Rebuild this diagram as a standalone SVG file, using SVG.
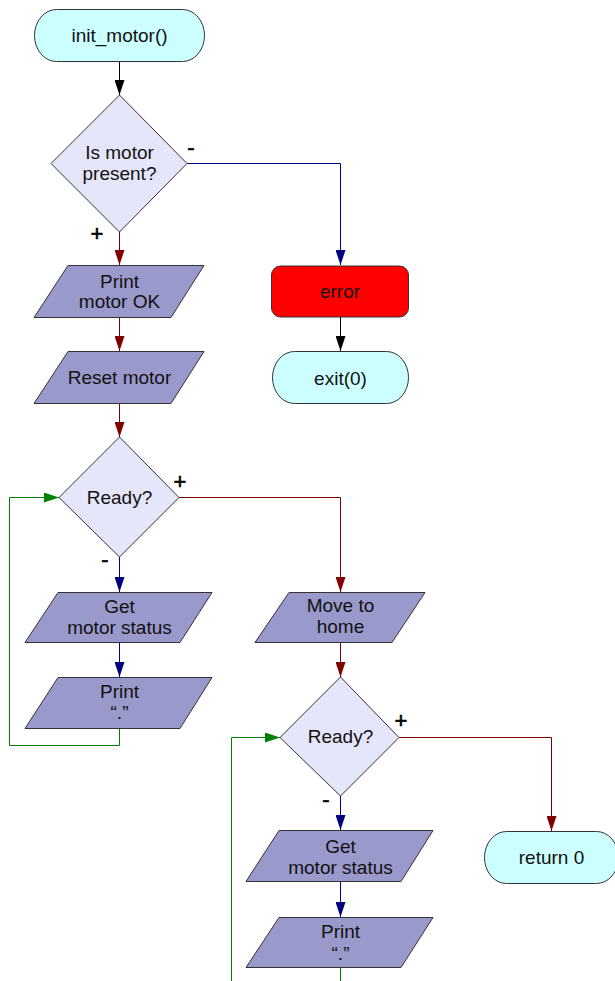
<svg xmlns="http://www.w3.org/2000/svg" width="615" height="981" viewBox="0 0 615 981">
  <style>
    text { font-family: "Liberation Sans", Arial, sans-serif; font-size: 19px; fill: #111; text-anchor: middle; }
    .sign { font-size: 22px; fill: #000; stroke: #000; stroke-width: 0.6; }
    .term { fill: #ccffff; stroke: #333; stroke-width: 1; }
    .dec { fill: #e6e6fa; stroke: #333; stroke-width: 1; }
    .io { fill: #9999cc; stroke: #333; stroke-width: 1; }
    .err { fill: #ff0000; stroke: #333; stroke-width: 1; }
    .c { fill: none; stroke-width: 1; }
    .k { stroke: #000; }
    .r { stroke: #800000; }
    .b { stroke: #000080; }
    .g { stroke: #008000; }
  </style>
  <defs>
    <!-- downward arrowheads (tip at the end point) -->
    <marker id="ah-k" viewBox="0 0 10 15" refX="5" refY="15" markerWidth="10" markerHeight="15" markerUnits="userSpaceOnUse">
      <path d="M0,0 L10,0 L5,15 z" fill="#000"/>
    </marker>
    <marker id="ah-r" viewBox="0 0 10 15" refX="5" refY="15" markerWidth="10" markerHeight="15" markerUnits="userSpaceOnUse">
      <path d="M0,0 L10,0 L5,15 z" fill="#800000"/>
    </marker>
    <marker id="ah-b" viewBox="0 0 10 15" refX="5" refY="15" markerWidth="10" markerHeight="15" markerUnits="userSpaceOnUse">
      <path d="M0,0 L10,0 L5,15 z" fill="#000080"/>
    </marker>
    <!-- rightward arrowhead for loop-backs -->
    <marker id="ah-g" viewBox="0 0 15 10" refX="15" refY="5" markerWidth="15" markerHeight="10" markerUnits="userSpaceOnUse">
      <path d="M0,0 L15,5 L0,10 z" fill="#008000"/>
    </marker>
  </defs>

  <!-- connectors -->
  <g id="connectors">
    <path class="c k" d="M119.5,61 V95" marker-end="url(#ah-k)"/>
    <path class="c b" d="M187,163.5 H340.5 V265" marker-end="url(#ah-b)"/>
    <path class="c r" d="M119.5,232 V265" marker-end="url(#ah-r)"/>
    <path class="c k" d="M340.5,317 V351" marker-end="url(#ah-k)"/>
    <path class="c r" d="M119.5,317 V351" marker-end="url(#ah-r)"/>
    <path class="c r" d="M119.5,403 V437" marker-end="url(#ah-r)"/>
    <path class="c r" d="M179,497.5 H340.5 V592" marker-end="url(#ah-r)"/>
    <path class="c b" d="M119.5,557 V592" marker-end="url(#ah-b)"/>
    <path class="c b" d="M119.5,642 V677" marker-end="url(#ah-b)"/>
    <path class="c g" d="M119.5,728 V745.5 H9.5 V497.5 H59" marker-end="url(#ah-g)"/>
    <path class="c r" d="M340.5,642 V677" marker-end="url(#ah-r)"/>
    <path class="c r" d="M399,737.5 H551.5 V831" marker-end="url(#ah-r)"/>
    <path class="c b" d="M340.5,796 V830" marker-end="url(#ah-b)"/>
    <path class="c b" d="M340.5,881 V917" marker-end="url(#ah-b)"/>
    <path class="c g" d="M340.5,967 V981"/>
    <path class="c g" d="M231.5,981 V737.5 H280" marker-end="url(#ah-g)"/>
  </g>

  <!-- branch signs -->
  <g id="signs">
    <text class="sign" x="191" y="155">-</text>
    <text class="sign" x="97" y="241">+</text>
    <text class="sign" x="180" y="489">+</text>
    <text class="sign" x="105" y="567">-</text>
    <text class="sign" x="401" y="728">+</text>
    <text class="sign" x="326" y="807">-</text>
  </g>

  <g id="start">
    <rect class="term" x="34.5" y="9.5" width="170" height="52" rx="22" ry="26"/>
    <text x="119.5" y="42">init_motor()</text>
  </g>

  <g id="motor-present">
    <polygon class="dec" points="119.5,95 187,163.5 119.5,232 51,163.5"/>
    <text x="119.5" y="159">Is motor</text>
    <text x="119.5" y="180">present?</text>
  </g>

  <g id="error">
    <rect class="err" x="271.5" y="266" width="137" height="51" rx="9"/>
    <text x="340" y="298">error</text>
  </g>

  <g id="exit">
    <rect class="term" x="272.5" y="351.5" width="136" height="52" rx="22" ry="26"/>
    <text x="340.5" y="385">exit(0)</text>
  </g>

  <g id="print-ok">
    <polygon class="io" points="68,265.5 204,265.5 171,317.5 34,317.5"/>
    <text x="119.5" y="288">Print</text>
    <text x="119.5" y="308">motor OK</text>
  </g>

  <g id="reset">
    <polygon class="io" points="68,351.5 204,351.5 171,403.5 34,403.5"/>
    <text x="119.5" y="384">Reset motor</text>
  </g>

  <g id="ready-1">
    <polygon class="dec" points="119.5,437 179,497.5 119.5,557 59,497.5"/>
    <text x="119.5" y="504">Ready?</text>
  </g>

  <g id="status-1">
    <polygon class="io" points="58,592.5 212,592.5 180,642.5 25,642.5"/>
    <text x="119.5" y="613">Get</text>
    <text x="119.5" y="634">motor status</text>
  </g>

  <g id="dot-1">
    <polygon class="io" points="58,677.5 212,677.5 180,728.5 25,728.5"/>
    <text x="119.5" y="698">Print</text>
    <text x="119.5" y="719">“.”</text>
  </g>

  <g id="home">
    <polygon class="io" points="289,592.5 425,592.5 392,642.5 255,642.5"/>
    <text x="340.5" y="612">Move to</text>
    <text x="340.5" y="633">home</text>
  </g>

  <g id="ready-2">
    <polygon class="dec" points="340.5,677 399,737.5 340.5,796 280,737.5"/>
    <text x="340.5" y="743">Ready?</text>
  </g>

  <g id="return">
    <rect class="term" x="484.5" y="831.5" width="134" height="52" rx="22" ry="26"/>
    <text x="551.5" y="864">return 0</text>
  </g>

  <g id="status-2">
    <polygon class="io" points="279,830.5 433,830.5 401,881.5 246,881.5"/>
    <text x="340.5" y="853">Get</text>
    <text x="340.5" y="874">motor status</text>
  </g>

  <g id="dot-2">
    <polygon class="io" points="279,917.5 433,917.5 401,967.5 246,967.5"/>
    <text x="340.5" y="938">Print</text>
    <text x="340.5" y="960">“.”</text>
  </g>
</svg>
